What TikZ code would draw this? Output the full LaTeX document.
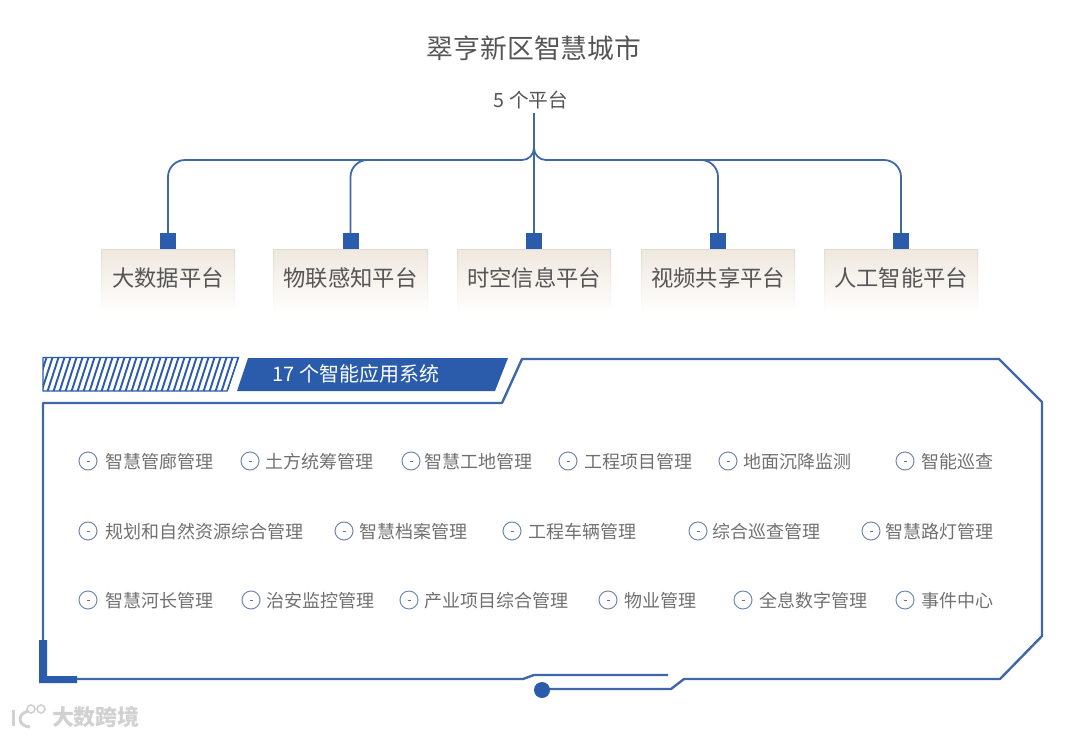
\documentclass[tikz,border=0pt]{standalone}
\usepackage{fontspec}
\setmainfont{Noto Sans CJK SC}
\usepackage{xcolor}
\usetikzlibrary{positioning, calc}
\definecolor{frameblue}{HTML}{3F68A8}
\definecolor{solidblue}{HTML}{2B5CAB}
\definecolor{boxtop}{HTML}{EFE8DE}
\definecolor{boxedge}{HTML}{E2DCD2}
\definecolor{inktext}{HTML}{555555}
\definecolor{itemtext}{HTML}{707070}
\definecolor{ringline}{HTML}{6F8AAE}

\begin{document}
\begin{tikzpicture}[
  x=1pt, y=-1pt,
  platform/.style={inner sep=0pt, outer sep=0pt, minimum height=64pt,
              text height=20pt, text depth=9.2pt,
              top color=boxtop, bottom color=white, text=inktext,
              font=\fontsize{22.3}{22}\selectfont,
              path picture={
                \shade[top color=boxedge, bottom color=white] (path picture bounding box.north west) rectangle ([xshift=1pt]path picture bounding box.south west);
                \shade[top color=boxedge, bottom color=white] (path picture bounding box.north east) rectangle ([xshift=-1pt]path picture bounding box.south east);
                \fill[boxedge] (path picture bounding box.north west) rectangle ([yshift=-1pt]path picture bounding box.north east);}},
  tag/.style={fill=solidblue, inner sep=0pt, outer sep=0pt, minimum size=16pt},
  link/.style={frameblue, line width=1.8pt},
  outline/.style={frameblue, line width=2.4pt, line join=round},
  ico/.style={circle, draw=ringline, line width=1pt, inner sep=0pt, outer sep=0pt, minimum size=18pt,
              path picture={\draw[itemtext, line width=0.5pt] ([xshift=-1.5pt]path picture bounding box.center) -- ([xshift=1.5pt]path picture bounding box.center);}},
  item/.style={inner sep=0pt, outer sep=0pt, text height=17pt, text depth=1.4pt, text=itemtext, font=\fontsize{18}{18}\selectfont}
]
\useasboundingbox (0,0) rectangle (1080,737);

% heading
\node[text=inktext, font=\fontsize{26.8}{27}\selectfont] (title) at (534,48) {翠亨新区智慧城市};
\node[text=inktext, font=\fontsize{19.6}{20}\selectfont] (count) at (531,100) {5 个平台};

% platforms
\node[platform, minimum width=134pt] (bigdata) at (168,281) {大数据平台};
\node[platform, minimum width=155pt, right=38pt of bigdata] (iot) {物联感知平台};
\node[platform, minimum width=154pt, right=29pt of iot] (geo) {时空信息平台};
\node[platform, minimum width=154pt, right=30pt of geo] (video) {视频共享平台};
\node[platform, minimum width=154pt, right=29pt of video] (ai) {人工智能平台};
\node[tag, above=0pt of bigdata] (t1) {};
\node[tag, above=0pt of iot] (t2) {};
\node[tag, above=0pt of geo] (t3) {};
\node[tag, above=0pt of video] (t4) {};
\node[tag, above=0pt of ai] (t5) {};

\coordinate (fork) at (534,148);
\coordinate (forkl) at (522,160);
\coordinate (forkr) at (546,160);
\draw[link] (count.south -| t3) -- (t3);
\draw[link] (fork) to[out=-90, in=0] (forkl);
\draw[link] (fork) to[out=-90, in=180] (forkr);
\draw[link, rounded corners=17pt] (forkl) -- (forkl -| t1) -- (t1);
\draw[link, rounded corners=17pt] (forkl) -- (forkl -| t2) -- (t2);
\draw[link, rounded corners=17pt] (forkr) -- (forkr -| t5) -- (t5);
\draw[link, rounded corners=17pt] (forkr) -- (forkr -| t4) -- (t4);

% system banner
\fill[solidblue] (237,391) -- (248,358) -- (508,358) -- (495,391) -- cycle;
\node[text=white, font=\fontsize{20}{20}\selectfont] (systems) at (356,374) {17 个智能应用系统};
\begin{scope}
  \clip (43,357) -- (239,357) -- (228,391) -- (43,391) -- cycle;
  \foreach \i in {0,...,34}
    \draw[solidblue, line width=1.9pt] ({35+\i*6},393) -- ({47+\i*6},356);
\end{scope}
\draw[solidblue, line width=1.4pt] (43,357.5) -- (238.5,357.5) -- (227,391) -- (43,391) -- cycle;

% frame
\coordinate (flag) at (668,675);
\draw[outline] (43,640) -- (43,403) -- (502,403) -- (522,359) -- (999,359) -- (1042,402)
  -- (1042,636) -- (1000,679) -- (684,679) -- (671,689) -- (542,689);
\draw[outline] (flag) -- (534,675) -- (523,679) -- (77,679);
\fill[solidblue] (39,640) -- (47,640) -- (47,676) -- (77,676) -- (77,683) -- (39,683) -- cycle;
\node[circle, fill=solidblue, inner sep=0pt, minimum size=16pt] (knob) at (542,690) {};

% row 1
\node[ico] (c1) at (88,461) {};
\node[item, right=8pt of c1] (i1) {智慧管廊管理};
\node[ico, right=28pt of i1] (c2) {};
\node[item, right=6pt of c2] (i2) {土方统筹管理};
\node[ico, right=29pt of i2] (c3) {};
\node[item, right=4pt of c3] (i3) {智慧工地管理};
\node[ico, right=27pt of i3] (c4) {};
\node[item, right=7pt of c4] (i4) {工程项目管理};
\node[ico, right=27pt of i4] (c5) {};
\node[item, right=6pt of c5] (i5) {地面沉降监测};
\node[ico, right=45pt of i5] (c6) {};
\node[item, right=7pt of c6] (i6) {智能巡查};
% row 2
\node[ico] (c7) at (88,531) {};
\node[item, right=8pt of c7] (i7) {规划和自然资源综合管理};
\node[ico, right=32pt of i7] (c8) {};
\node[item, right=6pt of c8] (i8) {智慧档案管理};
\node[ico, right=36pt of i8] (c9) {};
\node[item, right=7pt of c9] (i9) {工程车辆管理};
\node[ico, right=53pt of i9] (c10) {};
\node[item, right=5pt of c10] (i10) {综合巡查管理};
\node[ico, right=42pt of i10] (c11) {};
\node[item, right=5pt of c11] (i11) {智慧路灯管理};
% row 3
\node[ico] (c12) at (88,600) {};
\node[item, right=8pt of c12] (i12) {智慧河长管理};
\node[ico, right=29pt of i12] (c13) {};
\node[item, right=6pt of c13] (i13) {治安监控管理};
\node[ico, right=26pt of i13] (c14) {};
\node[item, right=6pt of c14] (i14) {产业项目综合管理};
\node[ico, right=31pt of i14] (c15) {};
\node[item, right=7pt of c15] (i15) {物业管理};
\node[ico, right=38pt of i15] (c16) {};
\node[item, right=7pt of c16] (i16) {全息数字管理};
\node[ico, right=29pt of i16] (c17) {};
\node[item, right=7pt of c17] (i17) {事件中心};

% watermark
\node[text=black!18, font=\fontsize{22}{22}\selectfont\bfseries] (mark) at (96,717) {大数跨境};
\draw[black!18, line width=3pt] (13,710) -- (13,726);
\draw[black!18, line width=3pt] (29,711) .. controls (17,713) and (17,726) .. (30,727);
\draw[black!18, line width=1.6pt] (31,709) circle (4pt) (41,709) circle (4pt);
\end{tikzpicture}
\end{document}
